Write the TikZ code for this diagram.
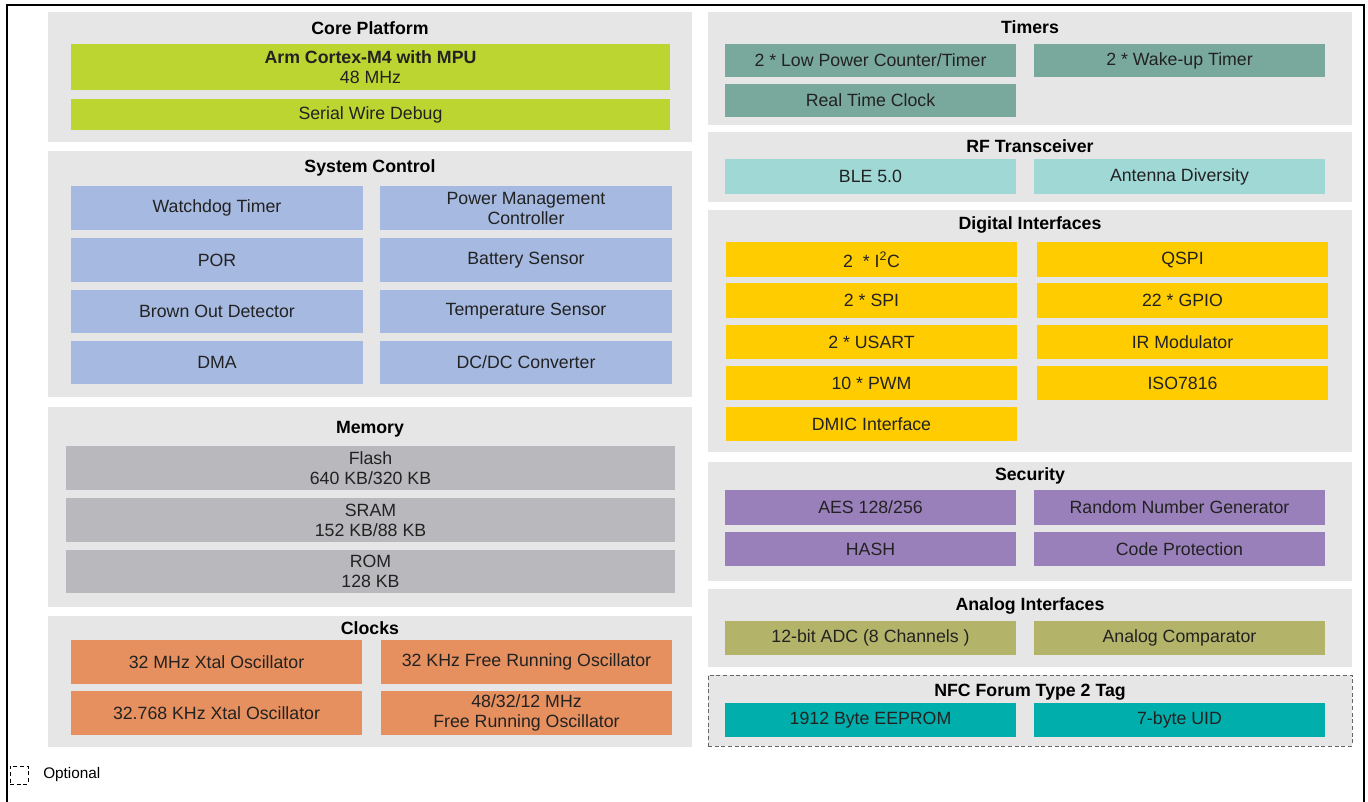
\documentclass[tikz,border=0pt]{standalone}
\usepackage{fontspec}
\setmainfont{Liberation Sans}
\usepackage{xcolor}
\usetikzlibrary{positioning, fit, backgrounds, calc}
\definecolor{cPANEL}{HTML}{E6E6E6}
\definecolor{cCORE}{HTML}{BDD531}
\definecolor{cSYS}{HTML}{A6B9E0}
\definecolor{cMEM}{HTML}{B9B9BD}
\definecolor{cCLK}{HTML}{E6905F}
\definecolor{cTIM}{HTML}{79A99D}
\definecolor{cRF}{HTML}{A0D8D6}
\definecolor{cDIG}{HTML}{FFCC00}
\definecolor{cSEC}{HTML}{9A80BA}
\definecolor{cANA}{HTML}{B3B46A}
\definecolor{cNFC}{HTML}{00AEAC}
\definecolor{cTXT}{HTML}{222222}
\tikzset{
  panel/.style={
    fill=cPANEL,
    draw=none,
    inner sep=0pt
  },
  optpanel/.style={
    panel,
    draw=black!60,
    densely dashed,
    line width=0.7pt
  },
  blk/.style={
    fill=#1,
    draw=none,
    inner sep=0pt
  },
  btext/.style={
    align=center,
    text=cTXT,
    inner sep=0pt,
    font=\fontsize{13.3}{15}\selectfont
  },
  txt/.style={
    label={[btext]center:{#1}}
  },
  ptitle/.style={
    font=\fontsize{13.3}{15}\selectfont\bfseries,
    text=black,
    text height=9.5pt,
    text depth=0pt,
    inner sep=1pt
  }
}

\begin{document}
\begin{tikzpicture}[x=0.75pt, y=-0.75pt]
  \useasboundingbox (0,0) rectangle (1368,802);
  % outer frame
  \draw[line width=2pt] (7,802) -- (7,5) -- (1364,5) -- (1364,802);

  % left column
  \node[panel, fit={(48,12) (692,142)}] (core) {};
  \node[ptitle] (coreT) at (370,28) {Core Platform};
  \node[blk=cCORE, fit={(71,44) (670,90)}, txt={\textbf{Arm Cortex-M4 with MPU}\\48 MHz}] (cpu) {};
  \node[blk=cCORE, fit={(71,99) (670,130)}, txt={Serial Wire Debug}] (swd) {};

  \node[panel, fit={(48,151) (692,397)}] (sysctl) {};
  \node[ptitle] (sysctlT) at (370,166) {System Control};
  \node[blk=cSYS, fit={(71,186) (363,230)}, txt={Watchdog Timer}] (wdt) {};
  \node[blk=cSYS, fit={(380,186) (672,230)}, txt={Power Management\\Controller}] (pmc) {};
  \node[blk=cSYS, fit={(71,238) (363,282)}, txt={POR}] (por) {};
  \node[blk=cSYS, fit={(380,238) (672,282)}, txt={Battery Sensor}] (bat) {};
  \node[blk=cSYS, fit={(71,290) (363,333)}, txt={Brown Out Detector}] (bod) {};
  \node[blk=cSYS, fit={(380,290) (672,333)}, txt={Temperature Sensor}] (temp) {};
  \node[blk=cSYS, fit={(71,341) (363,384)}, txt={DMA}] (dma) {};
  \node[blk=cSYS, fit={(380,341) (672,384)}, txt={DC/DC Converter}] (dcdc) {};

  \node[panel, fit={(48,407) (692,607)}] (mem) {};
  \node[ptitle] (memT) at (370,427) {Memory};
  \node[blk=cMEM, fit={(66,446) (675,490)}, txt={Flash\\640 KB/320 KB}] (flash) {};
  \node[blk=cMEM, fit={(66,498) (675,542)}, txt={SRAM\\152 KB/88 KB}] (sram) {};
  \node[blk=cMEM, fit={(66,550) (675,593)}, txt={ROM\\128 KB}] (rom) {};

  \node[panel, fit={(48,616) (692,747)}] (clk) {};
  \node[ptitle] (clkT) at (370,628) {Clocks};
  \node[blk=cCLK, fit={(71,640) (362,684)}, txt={32 MHz Xtal Oscillator}] (xtal32m) {};
  \node[blk=cCLK, fit={(381,640) (672,684)}, txt={32 KHz Free Running Oscillator}] (frc32k) {};
  \node[blk=cCLK, fit={(71,691) (362,735)}, txt={32.768 KHz Xtal Oscillator}] (xtal32k) {};
  \node[blk=cCLK, fit={(381,691) (672,735)}, txt={48/32/12 MHz\\Free Running Oscillator}] (frcmhz) {};

  % right column
  \node[panel, fit={(708,12) (1352,125)}] (tim) {};
  \node[ptitle] (timT) at (1030,27) {Timers};
  \node[blk=cTIM, fit={(725,44) (1016,77)}, txt={2 * Low Power Counter/Timer}] (lptim) {};
  \node[blk=cTIM, fit={(1034,44) (1325,77)}, txt={2 * Wake-up Timer}] (wut) {};
  \node[blk=cTIM, fit={(725,84) (1016,117)}, txt={Real Time Clock}] (rtc) {};

  \node[panel, fit={(708,132) (1352,202)}] (rf) {};
  \node[ptitle] (rfT) at (1030,146) {RF Transceiver};
  \node[blk=cRF, fit={(725,159) (1016,194)}, txt={BLE 5.0}] (ble) {};
  \node[blk=cRF, fit={(1034,159) (1325,194)}, txt={Antenna Diversity}] (ant) {};

  \node[panel, fit={(708,210) (1352,452)}] (dig) {};
  \node[ptitle] (digT) at (1030,223) {Digital Interfaces};
  \node[blk=cDIG, fit={(726,242) (1017,277)}, txt={2~ * I\textsuperscript{2}C}] (i2c) {};
  \node[blk=cDIG, fit={(1037,242) (1328,277)}, txt={QSPI}] (qspi) {};
  \node[blk=cDIG, fit={(726,283) (1017,318)}, txt={2 * SPI}] (spi) {};
  \node[blk=cDIG, fit={(1037,283) (1328,318)}, txt={22 * GPIO}] (gpio) {};
  \node[blk=cDIG, fit={(726,325) (1017,359)}, txt={2 * USART}] (usart) {};
  \node[blk=cDIG, fit={(1037,325) (1328,359)}, txt={IR Modulator}] (irm) {};
  \node[blk=cDIG, fit={(726,366) (1017,400)}, txt={10 * PWM}] (pwm) {};
  \node[blk=cDIG, fit={(1037,366) (1328,400)}, txt={ISO7816}] (iso) {};
  \node[blk=cDIG, fit={(726,407) (1017,441)}, txt={DMIC Interface}] (dmic) {};

  \node[panel, fit={(708,462) (1352,581)}] (sec) {};
  \node[ptitle] (secT) at (1030,474) {Security};
  \node[blk=cSEC, fit={(725,490) (1016,525)}, txt={AES 128/256}] (aes) {};
  \node[blk=cSEC, fit={(1034,490) (1325,525)}, txt={Random Number Generator}] (rng) {};
  \node[blk=cSEC, fit={(725,532) (1016,566)}, txt={HASH}] (hash) {};
  \node[blk=cSEC, fit={(1034,532) (1325,566)}, txt={Code Protection}] (cprot) {};

  \node[panel, fit={(708,589) (1352,667)}] (ana) {};
  \node[ptitle] (anaT) at (1030,604) {Analog Interfaces};
  \node[blk=cANA, fit={(725,621) (1016,655)}, txt={12-bit ADC (8 Channels )}] (adc) {};
  \node[blk=cANA, fit={(1034,621) (1325,655)}, txt={Analog Comparator}] (comp) {};

  \node[optpanel, fit={(708,675) (1352,746)}] (nfc) {};
  \node[ptitle] (nfcT) at (1030,690) {NFC Forum Type 2 Tag};
  \node[blk=cNFC, fit={(725,703) (1016,737)}, txt={1912 Byte EEPROM}] (eeprom) {};
  \node[blk=cNFC, fit={(1034,703) (1325,737)}, txt={7-byte UID}] (uid) {};

  % legend
  \node[draw=black, densely dashed, line width=0.6pt, fit={(10,766) (28,784)}, inner sep=0pt] (leg) {};
  \node[anchor=west, font=\fontsize{11.5}{13}\selectfont, inner sep=0pt] (legT) at (43,775) {Optional};
\end{tikzpicture}
\end{document}
